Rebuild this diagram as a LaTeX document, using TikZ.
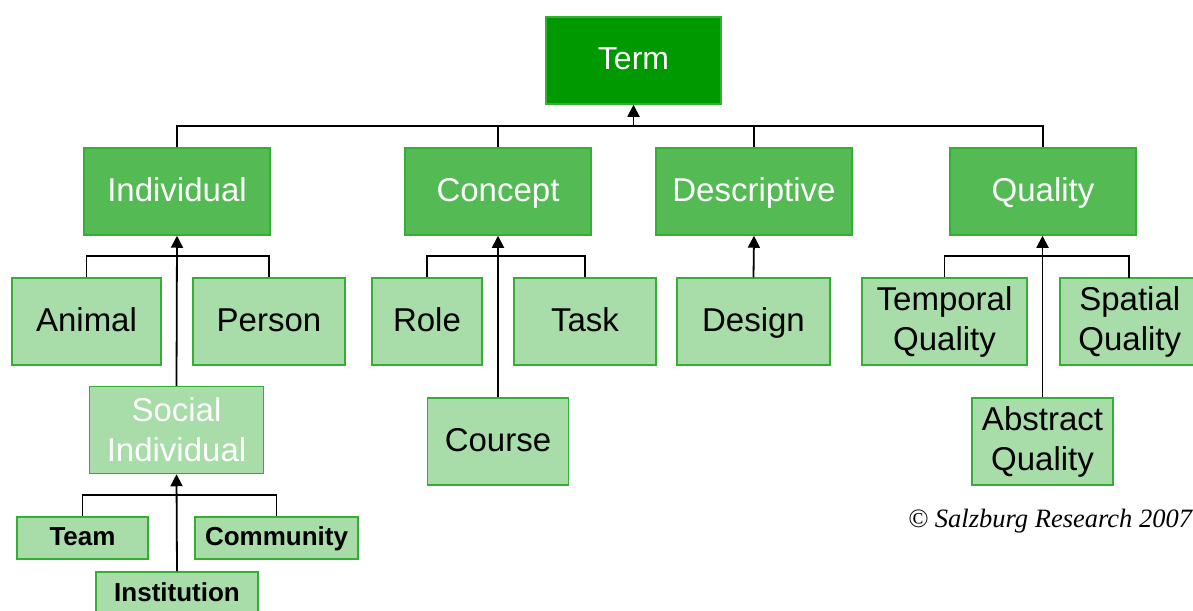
\documentclass[tikz,border=0pt]{standalone}
\usepackage{fontspec}
\setmainfont{Liberation Sans}
\newfontfamily\cpfont{Liberation Serif}
\usetikzlibrary{arrows.meta}
\definecolor{termgreen}{RGB}{0,153,0}
\definecolor{midgreen}{RGB}{84,186,84}
\definecolor{lightgreen}{RGB}{168,220,168}
\definecolor{edgegreen}{RGB}{51,175,51}
\tikzset{
  box/.style={draw=edgegreen, line width=1.5pt, inner sep=0pt, align=center, anchor=center},
  onebig/.style={text height=24pt, text depth=5pt},
  onesmall/.style={text height=19pt, text depth=4pt},
  topbox/.style={box, onebig, fill=termgreen, text=white, font=\fontsize{32}{38}\selectfont},
  midbox/.style={box, onebig, fill=midgreen, text=white, font=\fontsize{33}{40}\selectfont},
  lowbox/.style={box, fill=lightgreen, text=black, font=\fontsize{33}{40}\selectfont},
  smallbox/.style={box, onesmall, fill=lightgreen, text=black, font=\bfseries\fontsize{26}{30}\selectfont},
  conn/.style={line width=1.8pt, black},
  arr/.style={conn, -{Triangle[width=12pt,length=12pt]}},
}
\begin{document}
\begin{tikzpicture}[x=1pt,y=-1pt]
\useasboundingbox (0,0) rectangle (1193,610);
% level 0
\node[topbox, minimum width=175pt, minimum height=87pt] (term) at (633.5,60.5) {Term};
% level 1
\node[midbox, minimum width=186pt, minimum height=87pt] (individual) at (177,191.5) {Individual};
\node[midbox, minimum width=186pt, minimum height=87pt] (concept) at (498,191.5) {Concept};
\node[midbox, minimum width=196pt, minimum height=87pt] (descriptive) at (754,191.5) {Descriptive};
\node[midbox, minimum width=186pt, minimum height=87pt] (quality) at (1043,191.5) {Quality};
% level 2
\node[lowbox, onebig, minimum width=149pt, minimum height=87pt] (animal) at (86.5,321.5) {Animal};
\node[lowbox, onebig, minimum width=152pt, minimum height=87pt] (person) at (269,321.5) {Person};
\node[lowbox, minimum width=174pt, minimum height=87pt, text=white] (social) at (176.5,430) {Social\\Individual};
\node[lowbox, onebig, minimum width=110pt, minimum height=87pt] (role) at (427,321.5) {Role};
\node[lowbox, onebig, minimum width=142pt, minimum height=87pt] (task) at (585,321.5) {Task};
\node[lowbox, onebig, minimum width=141pt, minimum height=87pt] (course) at (498,441.5) {Course};
\node[lowbox, onebig, minimum width=153pt, minimum height=87pt] (design) at (753.5,321.5) {Design};
\node[lowbox, minimum width=165pt, minimum height=87pt] (temporal) at (944.5,321.5) {Temporal\\Quality};
\node[lowbox, minimum width=150pt, minimum height=87pt, anchor=west] (spatial) at (1059,321.5) {\hspace*{-10pt}Spatial\\\hspace*{-10pt}Quality};
\node[lowbox, minimum width=141pt, minimum height=87pt] (abstract) at (1042.5,441.5) {Abstract\\Quality};
% level 3
\node[smallbox, minimum width=131pt, minimum height=42pt] (team) at (82.5,538) {Team};
\node[smallbox, minimum width=163pt, minimum height=42pt] (community) at (276.5,538) {Community};
\node[smallbox, minimum width=162pt, minimum height=43pt] (institution) at (177,593.5) {Institution};
% copyright
\node[anchor=base west, inner sep=0pt, font=\cpfont\itshape\fontsize{26.5}{32}\selectfont] (copy) at (908,527) {\textcopyright{} Salzburg Research 2007};
% buses
\coordinate (tb) at (633.5,126);
\coordinate (ib) at (177,256);
\coordinate (cb) at (498,256);
\coordinate (qb) at (1043,256);
\coordinate (sb) at (177,495);
\coordinate (sq) at (1129,278);
\draw[conn] (individual.north) |- (tb) -| (quality.north);
\draw[conn] (concept.north) -- (concept.north |- tb);
\draw[conn] (descriptive.north) -- (descriptive.north |- tb);
\draw[arr] (tb) -- (term.south);
\draw[conn] (animal.north) |- (ib) -| (person.north);
\draw[arr] (social.north) -- (individual.south);
\draw[conn] (role.north) |- (cb) -| (task.north);
\draw[arr] (course.north) -- (concept.south);
\draw[arr] (design.north) -- (descriptive.south);
\draw[conn] (temporal.north) |- (qb) -| (sq);
\draw[arr] (abstract.north) -- (abstract.north |- quality.south);
\draw[conn] (team.north) |- (sb) -| (community.north);
\draw[arr] (institution.north) -- (social.south);
\end{tikzpicture}
\end{document}
